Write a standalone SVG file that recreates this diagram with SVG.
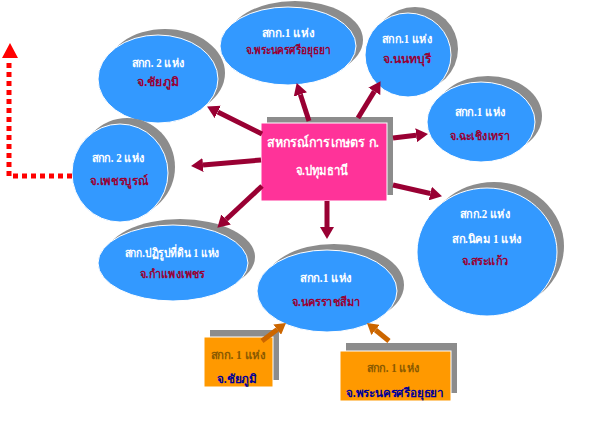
<svg xmlns="http://www.w3.org/2000/svg" width="600" height="425" viewBox="0 0 600 425">
<defs>
<style>
.sh{fill:#8c8c8c;}
.el{fill:#3399ff;stroke:#ffffff;stroke-width:1;}
.t{font-family:"Liberation Serif","Noto Sans CJK SC",serif;font-weight:bold;font-size:12px;text-anchor:middle;}
.w{fill:#ffffff;}
.m{fill:#990033;}
.br{fill:#8a5a00;}
.nb{fill:#000099;}
.arr{stroke:#990033;stroke-width:5;fill:none;}
.oarr{stroke:#cc6600;stroke-width:5;fill:none;}
</style>
<marker id="mh" markerUnits="userSpaceOnUse" markerWidth="12" markerHeight="14" refX="0" refY="7" orient="auto" viewBox="0 0 12 14">
<path d="M0,0 L12,7 L0,14 Z" fill="#990033"/>
</marker>
<marker id="oh" markerUnits="userSpaceOnUse" markerWidth="11" markerHeight="13" refX="0" refY="6.5" orient="auto" viewBox="0 0 11 13">
<path d="M0,0 L11,6.5 L0,13 Z" fill="#cc6600"/>
</marker>
</defs>
<rect width="600" height="425" fill="#ffffff"/>

<g id="node-chaiyaphum">
<ellipse class="sh" cx="165" cy="73" rx="60" ry="44"/>
<ellipse class="el" cx="158" cy="79" rx="60" ry="44"/>
<text class="t w" x="158" y="67" textLength="53" lengthAdjust="spacingAndGlyphs">สกก. 2 แห่ง</text>
<text class="t m" x="158" y="86" textLength="42" lengthAdjust="spacingAndGlyphs">จ.ชัยภูมิ</text>
</g>

<g id="node-ayutthaya">
<ellipse class="sh" cx="295" cy="40" rx="68" ry="39"/>
<ellipse class="el" cx="288" cy="46" rx="68" ry="39"/>
<text class="t w" x="288" y="37" textLength="53" lengthAdjust="spacingAndGlyphs">สกก.1 แห่ง</text>
<text class="t m" x="288" y="54" textLength="85" lengthAdjust="spacingAndGlyphs">จ.พระนครศรีอยุธยา</text>
</g>

<g id="node-nonthaburi">
<ellipse class="sh" cx="415" cy="49" rx="43" ry="42"/>
<ellipse class="el" cx="408" cy="55" rx="43" ry="42"/>
<text class="t w" x="407" y="43" textLength="50" lengthAdjust="spacingAndGlyphs">สกก.1 แห่ง</text>
<text class="t m" x="407" y="63" textLength="48" lengthAdjust="spacingAndGlyphs">จ.นนทบุรี</text>
</g>

<g id="node-chachoengsao">
<ellipse class="sh" cx="488" cy="116" rx="54" ry="40"/>
<ellipse class="el" cx="481" cy="122" rx="54" ry="40"/>
<text class="t w" x="480" y="116" textLength="51" lengthAdjust="spacingAndGlyphs">สกก.1 แห่ง</text>
<text class="t m" x="480" y="140" textLength="60" lengthAdjust="spacingAndGlyphs">จ.ฉะเชิงเทรา</text>
</g>

<g id="node-phetchabun">
<ellipse class="sh" cx="127" cy="167" rx="48" ry="49"/>
<ellipse class="el" cx="120" cy="173" rx="48" ry="49"/>
<text class="t w" x="118" y="162" textLength="53" lengthAdjust="spacingAndGlyphs">สกก. 2 แห่ง</text>
<text class="t m" x="119" y="185" textLength="58" lengthAdjust="spacingAndGlyphs">จ.เพชรบูรณ์</text>
</g>

<g id="node-sakaeo">
<ellipse class="sh" cx="494" cy="246" rx="70" ry="64"/>
<ellipse class="el" cx="487" cy="252" rx="70" ry="64"/>
<text class="t w" x="485" y="218" textLength="50" lengthAdjust="spacingAndGlyphs">สกก.2 แห่ง</text>
<text class="t w" x="487" y="243" textLength="70" lengthAdjust="spacingAndGlyphs">สก.นิคม 1 แห่ง</text>
<text class="t m" x="485" y="265" textLength="47" lengthAdjust="spacingAndGlyphs">จ.สระแก้ว</text>
</g>

<g id="node-kamphaengphet">
<ellipse class="sh" cx="180" cy="257" rx="75" ry="38"/>
<ellipse class="el" cx="173" cy="263" rx="75" ry="38"/>
<text class="t w" x="172" y="257" textLength="95" lengthAdjust="spacingAndGlyphs">สกก.ปฏิรูปที่ดิน 1 แห่ง</text>
<text class="t m" x="172" y="278" textLength="65" lengthAdjust="spacingAndGlyphs">จ.กำแพงเพชร</text>
</g>

<g id="node-nakhonratchasima">
<ellipse class="sh" cx="334" cy="285" rx="70" ry="41"/>
<ellipse class="el" cx="327" cy="291" rx="70" ry="41"/>
<text class="t w" x="326" y="282" textLength="52" lengthAdjust="spacingAndGlyphs">สกก.1 แห่ง</text>
<text class="t m" x="326" y="306" textLength="69" lengthAdjust="spacingAndGlyphs">จ.นครราชสีมา</text>
</g>

<g id="node-pathumthani">
<rect class="sh" x="267" y="117" width="126" height="78"/>
<rect x="261" y="123" width="126" height="78" fill="#ff3399" stroke="#ffffff" stroke-width="1"/>
<text class="t w" x="323" y="147" style="font-size:14px" textLength="112" lengthAdjust="spacingAndGlyphs">สหกรณ์การเกษตร ก.</text>
<text class="t w" x="322" y="175" style="font-size:14px" textLength="53" lengthAdjust="spacingAndGlyphs">จ.ปทุมธานี</text>
</g>

<g id="node-box-chaiyaphum">
<rect class="sh" x="210" y="330" width="69" height="50"/>
<rect x="204" y="337" width="69" height="50" fill="#ff9900" stroke="#ffffff" stroke-width="1"/>
<text class="t br" x="238" y="359" textLength="55" lengthAdjust="spacingAndGlyphs">สกก. 1 แห่ง</text>
<text class="t nb" x="237" y="383" textLength="40" lengthAdjust="spacingAndGlyphs">จ.ชัยภูมิ</text>
</g>

<g id="node-box-ayutthaya">
<rect class="sh" x="346" y="343" width="111" height="50"/>
<rect x="340" y="351" width="111" height="50" fill="#ff9900" stroke="#ffffff" stroke-width="1"/>
<text class="t br" x="393" y="372" textLength="53" lengthAdjust="spacingAndGlyphs">สกก. 1 แห่ง</text>
<text class="t nb" x="395" y="397" textLength="98" lengthAdjust="spacingAndGlyphs">จ.พระนครศรีอยุธยา</text>
</g>

<g id="connectors">
<line class="arr" x1="262" y1="134" x2="217.8" y2="111.9" marker-end="url(#mh)"/>
<line class="arr" x1="309" y1="121" x2="300.4" y2="94.5" marker-end="url(#mh)"/>
<line class="arr" x1="358" y1="118" x2="374.3" y2="91.4" marker-end="url(#mh)"/>
<line class="arr" x1="393" y1="138" x2="416.1" y2="135.3" marker-end="url(#mh)"/>
<line class="arr" x1="393" y1="185" x2="430.3" y2="193.5" marker-end="url(#mh)"/>
<line class="arr" x1="261" y1="160" x2="203" y2="165" marker-end="url(#mh)"/>
<line class="arr" x1="262" y1="186" x2="226.1" y2="219.5" marker-end="url(#mh)"/>
<line class="arr" x1="327" y1="201" x2="327" y2="227" marker-end="url(#mh)"/>
<line class="oarr" x1="262" y1="341" x2="277.2" y2="329.6" marker-end="url(#oh)"/>
<line class="oarr" x1="389" y1="341" x2="375.5" y2="330" marker-end="url(#oh)"/>
<path d="M72,176 H9 V60" fill="none" stroke="#ff0000" stroke-width="5" stroke-dasharray="5 4"/>
<path d="M10,43 L2,58 L18,58 Z" fill="#ff0000"/>
</g>
</svg>
